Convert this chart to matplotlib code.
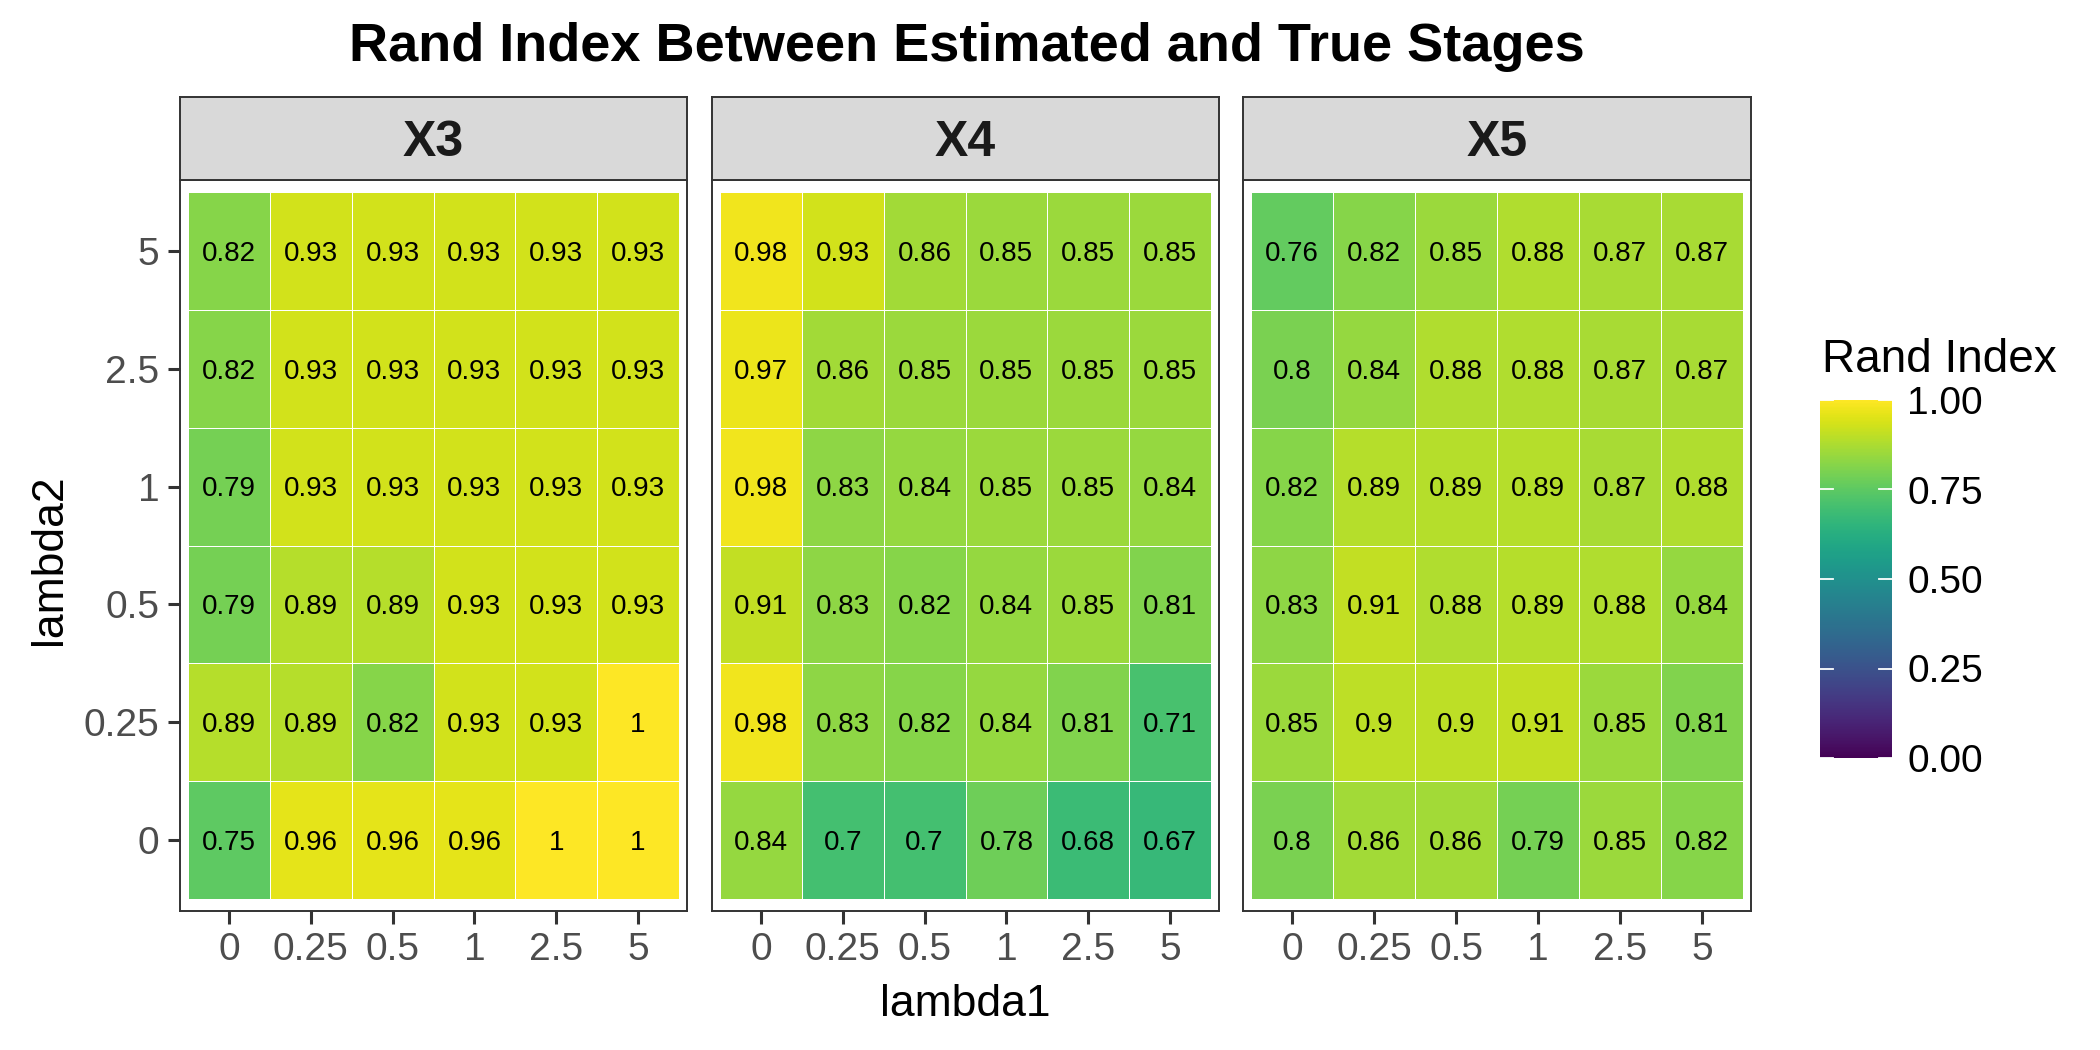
import numpy as np
import matplotlib
matplotlib.use("Agg")
import matplotlib.pyplot as plt
import matplotlib.transforms as mtransforms
from matplotlib.cm import ScalarMappable
from matplotlib.colors import Normalize

plt.rcParams['font.family'] = ['Liberation Sans', 'DejaVu Sans']

# === Data ===
lambda1 = ["0", "0.25", "0.5", "1", "2.5", "5"]
lambda2 = ["0", "0.25", "0.5", "1", "2.5", "5"]   # bottom -> top
panels = ["X3", "X4", "X5"]

# rows = lambda2 (0 .. 5), columns = lambda1 (0 .. 5)
rand_x3 = [
    [0.75, 0.96, 0.96, 0.96, 1.00, 1.00],
    [0.89, 0.89, 0.82, 0.93, 0.93, 1.00],
    [0.79, 0.89, 0.89, 0.93, 0.93, 0.93],
    [0.79, 0.93, 0.93, 0.93, 0.93, 0.93],
    [0.82, 0.93, 0.93, 0.93, 0.93, 0.93],
    [0.82, 0.93, 0.93, 0.93, 0.93, 0.93],
]
rand_x4 = [
    [0.84, 0.70, 0.70, 0.78, 0.68, 0.67],
    [0.98, 0.83, 0.82, 0.84, 0.81, 0.71],
    [0.91, 0.83, 0.82, 0.84, 0.85, 0.81],
    [0.98, 0.83, 0.84, 0.85, 0.85, 0.84],
    [0.97, 0.86, 0.85, 0.85, 0.85, 0.85],
    [0.98, 0.93, 0.86, 0.85, 0.85, 0.85],
]
rand_x5 = [
    [0.80, 0.86, 0.86, 0.79, 0.85, 0.82],
    [0.85, 0.90, 0.90, 0.91, 0.85, 0.81],
    [0.83, 0.91, 0.88, 0.89, 0.88, 0.84],
    [0.82, 0.89, 0.89, 0.89, 0.87, 0.88],
    [0.80, 0.84, 0.88, 0.88, 0.87, 0.87],
    [0.76, 0.82, 0.85, 0.88, 0.87, 0.87],
]
values = [rand_x3, rand_x4, rand_x5]

legend_ticks = [0.0, 0.25, 0.5, 0.75, 1.0]

# === Layout (pixel coords) ===
W, H = 2100, 1050
def box(x0, y0, x1, y1):
    return [x0 / W, 1 - y1 / H, (x1 - x0) / W, (y1 - y0) / H]

panel_x = [(180, 687), (712, 1219), (1243, 1751)]
panel_top, panel_bot = 180, 911
strip_top = 97

dark = "#333333"
tick_grey = "#4D4D4D"
cmap = plt.get_cmap("viridis")
norm = Normalize(0, 1)

fig = plt.figure(figsize=(21, 10.5), dpi=100)

for i, (name, vals) in enumerate(zip(panels, values)):
    x0, x1 = panel_x[i]
    ax = fig.add_axes(box(x0, panel_top, x1, panel_bot))
    data = np.array(vals)
    edges = np.arange(len(lambda1) + 1) - 0.5
    ax.pcolormesh(edges, edges, data, cmap=cmap, norm=norm,
                  edgecolors="white", linewidth=0.7)
    for r in range(data.shape[0]):
        for c in range(data.shape[1]):
            ax.text(c, r - 0.025, f"{round(data[r, c], 2):g}", ha="center", va="center",
                    fontsize=20, color="black")
    ax.set_xlim(-0.6, len(lambda1) - 0.4)
    ax.set_ylim(-0.6, len(lambda2) - 0.4)
    ax.set_xticks(range(len(lambda1)))
    ax.set_xticklabels(lambda1)
    ax.tick_params(axis="both", labelsize=28, labelcolor=tick_grey, color=dark,
                   width=2.2, length=9, pad=6)
    if i == 0:
        ax.set_yticks(range(len(lambda2)))
        ax.set_yticklabels(lambda2)
    else:
        ax.set_yticks([])
    for sp in ax.spines.values():
        sp.set_color(dark)
        sp.set_linewidth(1.4)

    # facet strip
    sax = fig.add_axes(box(x0, strip_top, x1, panel_top))
    sax.set_facecolor("#D9D9D9")
    sax.set_xticks([])
    sax.set_yticks([])
    for sp in sax.spines.values():
        sp.set_color(dark)
        sp.set_linewidth(1.4)
    sax.text(0.5, 0.45, name, transform=sax.transAxes, ha="center", va="center",
             fontsize=36, fontweight="bold", color="#1A1A1A")

# titles
fig.text(967 / W, 1 - 47 / H, "Rand Index Between Estimated and True Stages",
         ha="center", va="center", fontsize=39, fontweight="bold")
fig.text(965 / W, 1 - 1004 / H, "lambda1", ha="center", va="center", fontsize=32)
fig.text(50 / W, 1 - 560 / H, "lambda2", ha="center", va="center", fontsize=32,
         rotation=90)

# colour bar legend
cax = fig.add_axes(box(1820, 400, 1892, 758))
cb = fig.colorbar(ScalarMappable(norm=norm, cmap=cmap), cax=cax, ticks=legend_ticks)
cb.outline.set_visible(False)
cb.ax.set_yticklabels([f"{t:.2f}" for t in legend_ticks])
cax.tick_params(length=0, pad=11, labelsize=28, labelcolor="black")
trans = mtransforms.blended_transform_factory(cax.transAxes, cax.transData)
for t in legend_ticks:
    cax.plot([0, 0.18], [t, t], color="white", lw=1.3, transform=trans, clip_on=False)
    cax.plot([0.82, 1], [t, t], color="white", lw=1.3, transform=trans, clip_on=False)
fig.text(1822 / W, 1 - 360 / H, "Rand Index", ha="left", va="center", fontsize=33)

fig.savefig("out.png", dpi=100, facecolor="white")
